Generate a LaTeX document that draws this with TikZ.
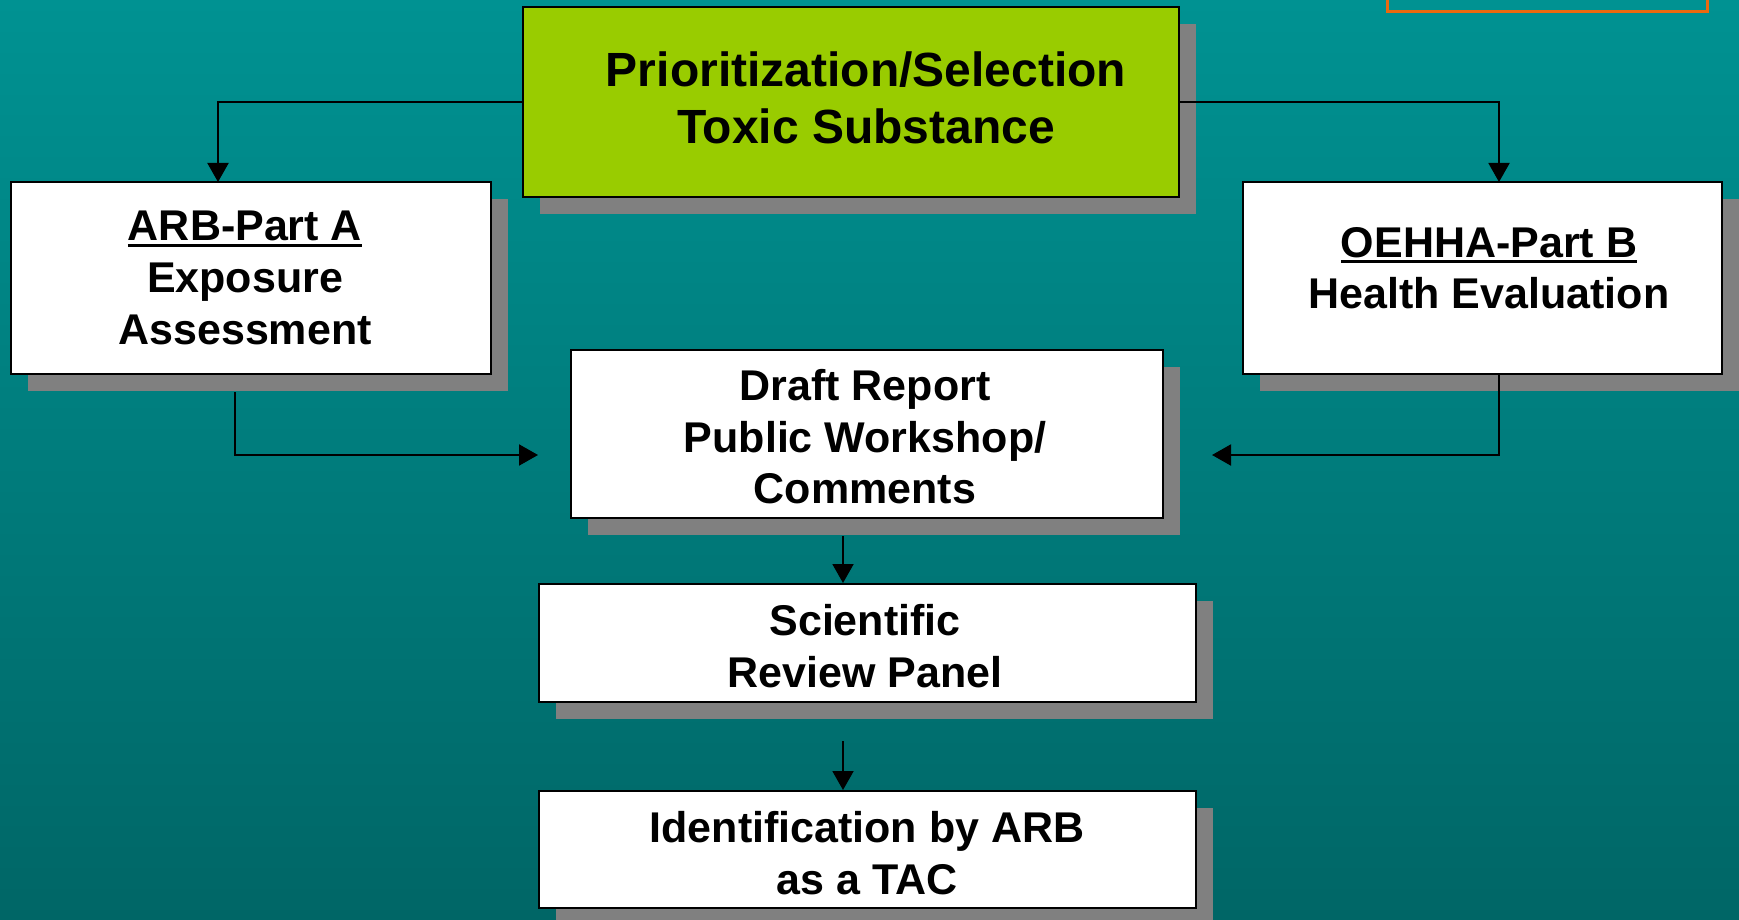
\documentclass[tikz,border=0pt]{standalone}
\usepackage{fontspec}
\setmainfont{Liberation Sans}
\usetikzlibrary{arrows.meta,shadows}
\definecolor{bgtop}{RGB}{0,146,146}
\definecolor{bgbot}{RGB}{0,102,102}
\definecolor{boxgreen}{RGB}{153,204,0}
\definecolor{shadowgray}{RGB}{128,128,128}
\definecolor{orangeline}{RGB}{235,105,15}
\newcommand\ulx[1]{\setbox0\hbox{#1}\rlap{\rule[-6pt]{\wd0}{3pt}}\box0}
\begin{document}
\begin{tikzpicture}[x=1pt,y=-1pt,
  box/.style={draw=black,line width=2pt,fill=white,inner sep=0pt,
     drop shadow={shadow xshift=17pt,shadow yshift=-17pt,fill=shadowgray,opacity=1}},
  txt/.style={align=center,font=\fontsize{43}{51.6}\selectfont\bfseries,inner sep=0pt},
  bigtxt/.style={align=center,font=\fontsize{48}{57.6}\selectfont\bfseries,inner sep=0pt},
  conn/.style={line width=2pt,-{Triangle[length=19pt,width=21pt]}}]
\useasboundingbox (0,0) rectangle (1739,920);
\shade[top color=bgtop,bottom color=bgbot] (0,0) rectangle (1739,920);
\draw[orangeline,line width=3pt] (1387,-10) rectangle (1707,12);

% boxes
\node[box,fill=boxgreen,minimum width=656pt,minimum height=190pt] (top) at (851,102) {};
\node[bigtxt] (topT) at (866,98) {Prioritization/Selection\\Toxic Substance};

\node[box,minimum width=480pt,minimum height=192pt] (arb) at (251,278) {};
\node[txt] (arbT) at (245,278) {\ulx{ARB-Part A}\\Exposure\\Assessment};

\node[box,minimum width=479pt,minimum height=192pt] (oe) at (1482.5,278) {};
\node[txt] (oeT) at (1489,268) {\ulx{OEHHA-Part B}\\Health Evaluation};

\node[box,minimum width=592pt,minimum height=168pt] (draft) at (867,434) {};
\node[txt] (draftT) at (865,437) {Draft Report\\Public Workshop/\\Comments};

\node[box,minimum width=657pt,minimum height=118pt] (sci) at (867.5,643) {};
\node[txt] (sciT) at (865,646) {Scientific\\Review Panel};

\node[box,minimum width=657pt,minimum height=117pt] (idn) at (867.5,849.5) {};
\node[txt] (idnT) at (867,853) {Identification by ARB\\as a TAC};

% connectors
\coordinate (arbIn) at (218,182);
\coordinate (oeIn) at (1499,182);
\coordinate (arbOut) at (235,392);
\coordinate (oeOut) at (1499,374);
\coordinate (draftInL) at (538,455);
\coordinate (draftInR) at (1212,455);
\coordinate (d1) at (843,536);
\coordinate (s1) at (843,741);

\draw[conn] (top.west) -| (arbIn);
\draw[conn] (top.east) -| (oeIn);
\draw[conn] (arbOut) |- (draftInL);
\draw[conn] (oeOut) |- (draftInR);
\draw[conn] (d1) -- (d1 |- sci.north);
\draw[conn] (s1) -- (s1 |- idn.north);
\end{tikzpicture}
\end{document}
